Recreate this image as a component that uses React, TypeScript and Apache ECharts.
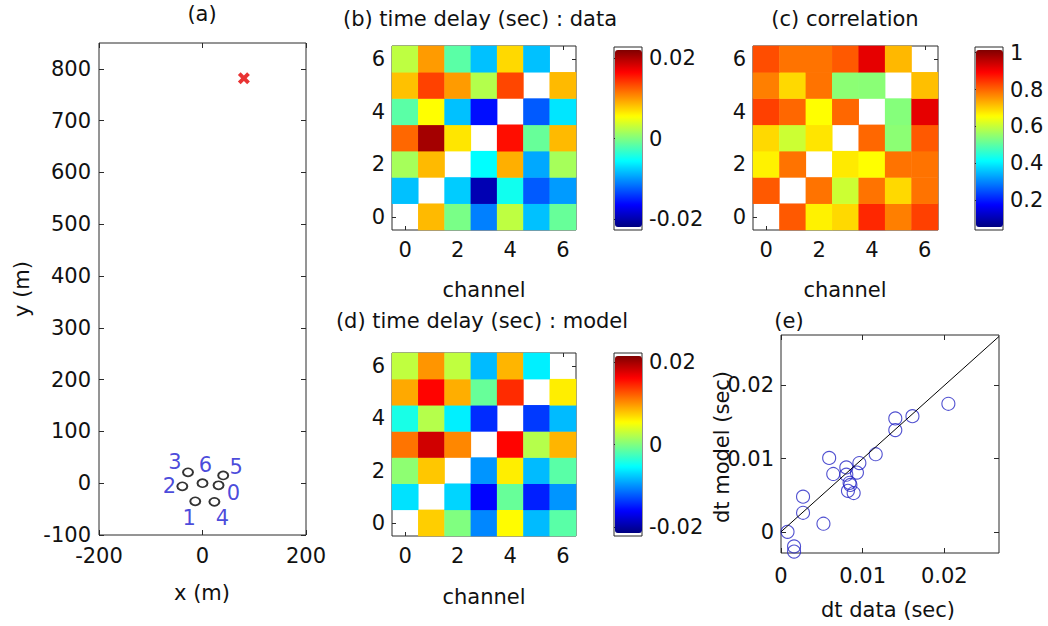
import React, { useEffect, useRef } from 'react';
import * as echarts from 'echarts';

// ---------- data ----------
const channels = ['0', '1', '2', '3', '4', '5', '6'];

// (a) station map (m)
const stationIds = ['0', '1', '2', '3', '4', '5', '6'];
const stationX = [31, -14, -39, -28, 23, 40, 0];
const stationY = [-4, -35, -6, 21, -36, 15, 0];
const sourceX = [80];
const sourceY = [782];
const mapXLabels = [-200, 0, 200];
const mapYLabels = [-100, 0, 100, 200, 300, 400, 500, 600, 700, 800];

// (b) time delay (sec): data, rows = channel y 0..6, cols = channel x 0..6
const delayData: (number | null)[][] = [
  [null, 0.0088, -0.0003, -0.0114, 0.0028, -0.0085, -0.0011],
  [-0.0085, null, -0.008, -0.0205, -0.005, -0.0131, -0.0102],
  [0.0017, 0.0088, null, -0.0057, 0.0093, -0.0096, 0.0017],
  [0.0125, 0.0212, 0.0068, null, 0.0165, -0.0011, 0.0088],
  [-0.0017, 0.0057, -0.0085, -0.0165, null, -0.0131, -0.0068],
  [0.0085, 0.0142, 0.0102, 0.0023, 0.014, null, 0.0088],
  [0.0028, 0.0102, -0.0017, -0.0085, 0.0074, -0.0085, null],
];

// (c) correlation
const corrData: (number | null)[][] = [
  [null, 0.82, 0.671, 0.696, 0.869, 0.783, 0.844],
  [0.82, null, 0.795, 0.609, 0.795, 0.696, 0.795],
  [0.671, 0.795, null, 0.679, 0.659, 0.795, 0.795],
  [0.696, 0.609, 0.684, null, 0.807, 0.547, 0.82],
  [0.844, 0.807, 0.659, 0.807, null, 0.54, 0.931],
  [0.783, 0.696, 0.795, 0.547, 0.545, null, 0.721],
  [0.832, 0.795, 0.795, 0.82, 0.931, 0.728, null],
];

// (d) time delay (sec): model
const modelData: (number | null)[][] = [
  [null, 0.0077, 0.0, -0.0108, 0.0057, -0.0085, -0.0017],
  [-0.0068, null, -0.0074, -0.0165, -0.0011, -0.0153, -0.0102],
  [0.0006, 0.008, null, -0.0102, 0.0063, -0.0085, -0.0017],
  [0.0116, 0.0187, 0.0108, null, 0.0165, 0.0023, 0.0088],
  [-0.0045, 0.0023, -0.0062, -0.0148, null, -0.0142, -0.0085],
  [0.0093, 0.0165, 0.0091, -0.0011, 0.0148, null, 0.0063],
  [0.0028, 0.0102, 0.0028, -0.0085, 0.0088, -0.0062, null],
];

const delayRangeData = [-0.0228, 0.0228];
const delayRangeModel = [-0.0222, 0.0222];
const corrRange = [0.04, 1.03];
const delayTicks = [-0.02, 0, 0.02];
const corrTicks = [0.2, 0.4, 0.6, 0.8, 1];

// (e) dt data vs dt model
const dtData = [0.0008, 0.0016, 0.0016, 0.0027, 0.0027, 0.0052, 0.0059, 0.0064, 0.008, 0.008, 0.0082,
  0.0084, 0.0085, 0.0089, 0.0093, 0.0096, 0.0116, 0.014, 0.014, 0.0161, 0.0205];
const dtModel = [0.0, -0.002, -0.0027, 0.0026, 0.0048, 0.0011, 0.0101, 0.0079, 0.0088, 0.0078, 0.0056,
  0.0067, 0.0064, 0.0053, 0.0081, 0.0094, 0.0106, 0.0139, 0.0155, 0.0158, 0.0175];
const oneToOneX = [0, 0.0267];
const oneToOneY = [0, 0.0267];
const dtXRange = [0, 0.0267];
const dtYRange = [-0.0029, 0.0269];
const dtTicks = [0, 0.01, 0.02];

// ---------- styling ----------
const FONT = 'DejaVu Sans';
const FS = 21;
const INK = '#111';
const LINE = '#2b2b2b';
const JET = ['#000080', '#0000ff', '#0080ff', '#00ffff', '#80ff80', '#ffff00', '#ff8000', '#ff0000', '#800000'];
const stationLabelOffset: Record<string, [number, number]> = {
  '0': [15, 8], '1': [-6, 17], '2': [-13, 0], '3': [-13, -10], '4': [8, 16], '5': [13, -8], '6': [3, -18],
};

const fmtNum = (v: number) => (v === 0 ? '0' : String(Math.round(v * 10000) / 10000));

const toCells = (m: (number | null)[][]) => {
  const out: number[][] = [];
  m.forEach((row, y) => row.forEach((v, x) => { if (v !== null) out.push([x, y, v]); }));
  return out;
};

const gridBox = (left: number, top: number, width: number, height: number) => ({
  left, top, width, height, show: true, borderColor: LINE, borderWidth: 1,
  backgroundColor: 'transparent', containLabel: false, outerBoundsMode: 'none',
});

const labelStyle = { color: INK, fontSize: FS, fontFamily: FONT };

const valAxis = (gridIndex: number, position: string, range: number[], ticks: number[],
  labels: number[] | null, margin = 8) => ({
  type: 'value', gridIndex, position, min: range[0], max: range[1], scale: true,
  axisLine: { show: false, onZero: false },
  axisTick: { show: true, inside: true, length: 5, customValues: ticks, lineStyle: { color: LINE } },
  axisLabel: labels ? { show: true, customValues: labels, formatter: fmtNum, margin, ...labelStyle } : { show: false },
  splitLine: { show: false },
});

const catAxis = (gridIndex: number, position: string, showLabel: boolean, margin = 8) => ({
  type: 'category', gridIndex, position, data: channels, boundaryGap: true,
  axisLine: { show: false, onZero: false },
  axisTick: { show: true, inside: true, length: 4, interval: 1, alignWithLabel: true, lineStyle: { color: LINE } },
  axisLabel: { show: showLabel, interval: 1, margin, ...labelStyle },
  splitLine: { show: false },
});

const hiddenX = (gridIndex: number) => ({ type: 'value', gridIndex, show: false, min: 0, max: 1 });

const texts: { t: string; x: number; y: number; rot?: boolean }[] = [
  { t: '(a)', x: 202, y: 14 },
  { t: '(b) time delay (sec) : data', x: 480, y: 19 },
  { t: '(c) correlation', x: 845, y: 19 },
  { t: '(d) time delay (sec) : model', x: 482, y: 321 },
  { t: '(e)', x: 789, y: 321 },
  { t: 'x (m)', x: 202, y: 593 },
  { t: 'channel', x: 484, y: 290 },
  { t: 'channel', x: 845, y: 290 },
  { t: 'channel', x: 484, y: 597 },
  { t: 'dt data (sec)', x: 888, y: 610 },
  { t: 'y (m)', x: 22, y: 289, rot: true },
  { t: 'dt model (sec)', x: 722, y: 447, rot: true },
];

export default function App() {
  const ref = useRef<HTMLDivElement>(null);

  useEffect(() => {
    if (!ref.current) return;
    const chart = echarts.init(ref.current, undefined, { renderer: 'svg' });

    const grids = [
      gridBox(99, 43, 207, 492),   // 0 (a)
      gridBox(392, 46, 184, 184),  // 1 (b)
      gridBox(614, 47, 28, 183),   // 2 (b) colorbar
      gridBox(753, 46, 185, 184),  // 3 (c)
      gridBox(975, 47, 28, 183),   // 4 (c) colorbar
      gridBox(392, 353, 184, 183), // 5 (d)
      gridBox(614, 353, 28, 183),  // 6 (d) colorbar
      gridBox(781, 335, 218, 218), // 7 (e)
    ];

    const xAxes = [
      valAxis(0, 'bottom', [-200, 200], mapXLabels, mapXLabels, 10), // 0
      valAxis(0, 'top', [-200, 200], mapXLabels, null),             // 1
      catAxis(1, 'bottom', true, 9),                                 // 2
      catAxis(1, 'top', false),                                      // 3
      hiddenX(2),                                                    // 4
      catAxis(3, 'bottom', true, 9),                                 // 5
      catAxis(3, 'top', false),                                      // 6
      hiddenX(4),                                                    // 7
      catAxis(5, 'bottom', true, 9),                                 // 8
      catAxis(5, 'top', false),                                      // 9
      hiddenX(6),                                                    // 10
      valAxis(7, 'bottom', dtXRange, dtTicks, dtTicks, 12),          // 11
      valAxis(7, 'top', dtXRange, dtTicks, null),                    // 12
    ];

    const yAxes = [
      valAxis(0, 'left', [-100, 850], mapYLabels, mapYLabels, 8),    // 0
      valAxis(0, 'right', [-100, 850], mapYLabels, null),            // 1
      catAxis(1, 'left', true, 7),                                   // 2
      catAxis(1, 'right', false),                                    // 3
      valAxis(2, 'right', delayRangeData, delayTicks, delayTicks, 7),// 4
      valAxis(2, 'left', delayRangeData, delayTicks, null),          // 5
      catAxis(3, 'left', true, 7),                                   // 6
      catAxis(3, 'right', false),                                    // 7
      valAxis(4, 'right', corrRange, corrTicks, corrTicks, 7),       // 8
      valAxis(4, 'left', corrRange, corrTicks, null),                // 9
      catAxis(5, 'left', true, 7),                                   // 10
      catAxis(5, 'right', false),                                    // 11
      valAxis(6, 'right', delayRangeModel, delayTicks, delayTicks, 7),// 12
      valAxis(6, 'left', delayRangeModel, delayTicks, null),         // 13
      valAxis(7, 'left', dtYRange, dtTicks, dtTicks, 7),             // 14
      valAxis(7, 'right', dtYRange, dtTicks, null),                  // 15
    ];

    const heat = (xi: number, yi: number, m: (number | null)[][]) => ({
      type: 'heatmap', xAxisIndex: xi, yAxisIndex: yi, data: toCells(m),
      itemStyle: { borderWidth: 0 }, emphasis: { disabled: true }, silent: true,
    });

    const series: any[] = [
      {
        type: 'scatter', xAxisIndex: 0, yAxisIndex: 0,
        data: stationX.map((x, i) => ({
          value: [x, stationY[i]],
          label: { offset: stationLabelOffset[stationIds[i]] },
        })),
        symbol: 'circle', symbolSize: [10, 8],
        itemStyle: { color: 'transparent', borderColor: '#000', borderWidth: 1.8 },
        label: {
          show: true, position: 'inside', formatter: (p: any) => stationIds[p.dataIndex],
          color: '#1a1ad2', fontSize: 21, lineHeight: 21, fontFamily: FONT,
          textBorderWidth: 0, textBorderColor: 'transparent',
        },
        silent: true,
      },
      {
        type: 'scatter', xAxisIndex: 0, yAxisIndex: 0,
        data: sourceX.map((x, i) => [x, sourceY[i]]),
        symbol: 'path://M0,2.3L2.3,0L5,2.7L7.7,0L10,2.3L7.3,5L10,7.7L7.7,10L5,7.3L2.3,10L0,7.7L2.7,5Z',
        symbolSize: 12, itemStyle: { color: '#e30000' }, silent: true,
      },
      heat(2, 2, delayData),
      heat(5, 6, corrData),
      heat(8, 10, modelData),
      {
        type: 'line', xAxisIndex: 11, yAxisIndex: 14,
        data: oneToOneX.map((x, i) => [x, oneToOneY[i]]),
        symbol: 'none', lineStyle: { color: '#000', width: 1 }, silent: true,
      },
      {
        type: 'scatter', xAxisIndex: 11, yAxisIndex: 14,
        data: dtData.map((x, i) => [x, dtModel[i]]),
        symbol: 'circle', symbolSize: 13, clip: false,
        itemStyle: { color: 'transparent', borderColor: '#2424c4', borderWidth: 1.1 },
        silent: true,
      },
    ];

    const vm = (seriesIndex: number, range: number[], left: number, top: number) => ({
      type: 'continuous', seriesIndex, dimension: 2, min: range[0], max: range[1],
      inRange: { color: JET }, orient: 'vertical', left, top, itemWidth: 27, itemHeight: 177,
      calculable: false, padding: 0, hoverLink: false, text: undefined,
      textStyle: { fontSize: 0, color: 'transparent' },
    });

    chart.setOption({
      animation: false,
      backgroundColor: '#fff',
      textStyle: { fontFamily: FONT },
      grid: grids,
      xAxis: xAxes,
      yAxis: yAxes,
      visualMap: [
        vm(2, delayRangeData, 615, 50),
        vm(3, corrRange, 976, 50),
        vm(4, delayRangeModel, 615, 356),
      ],
      series,
      graphic: texts.map((g) => ({
        type: 'text', x: g.x, y: g.y, rotation: g.rot ? Math.PI / 2 : 0, silent: true,
        style: {
          text: g.t, fill: INK, font: `${FS}px "${FONT}"`,
          align: 'center', verticalAlign: 'middle', textAlign: 'center', textVerticalAlign: 'middle',
        },
      })),
    });

    return () => chart.dispose();
  }, []);

  return <div ref={ref} style={{ position: 'fixed', left: 0, top: 0, width: 1048, height: 626 }} />;
}
